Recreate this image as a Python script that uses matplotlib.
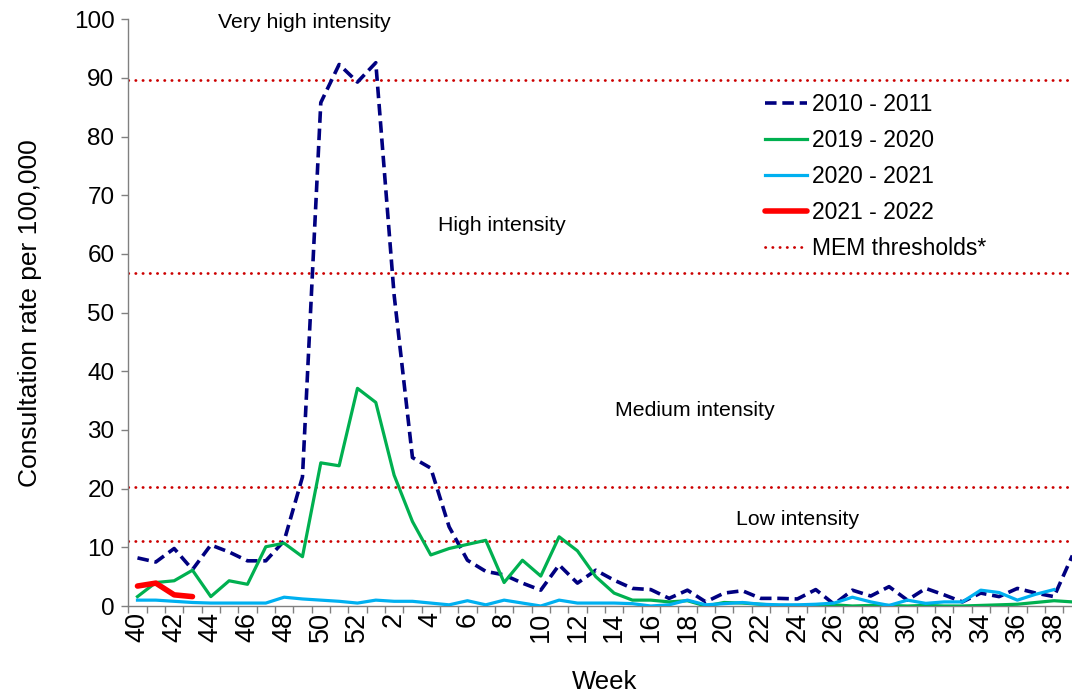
import numpy as np
import matplotlib
matplotlib.use("Agg")
from matplotlib import pyplot as plt

plt.rcParams['font.family'] = ['Liberation Sans', 'DejaVu Sans']

# weeks of the flu season, 40..52 then 1..39
weeks = list(range(40, 53)) + list(range(1, 40))

s2010 = [8.2, 7.5, 9.8, 6.2, 10.4, 9.2, 7.7, 7.7, 11.1, 22.0, 85.8, 92.3, 89.3,
         92.6, 53.0, 25.3, 23.5, 13.5, 7.8, 5.9, 5.3, 3.9, 2.7, 7.0, 3.9, 6.1, 4.4,
         3.0, 2.8, 1.3, 2.7, 0.7, 2.2, 2.6, 1.3, 1.3, 1.2, 2.8, 0.3, 2.7, 1.7, 3.3,
         1.0, 3.0, 1.9, 0.7, 2.2, 1.6, 3.0, 2.2, 1.6, 8.6]
s2019 = [1.6, 4.0, 4.3, 6.1, 1.6, 4.3, 3.7, 10.1, 10.7, 8.4, 24.4, 23.9, 37.1,
         34.7, 22.3, 14.4, 8.7, 9.8, 10.5, 11.2, 4.0, 7.8, 5.1, 11.8, 9.4, 5.0, 2.2,
         1.0, 1.0, 0.7, 0.9, 0.0, 0.6, 0.5, 0.3, 0.1, 0.1, 0.1, 0.2, 0.0, 0.1, 0.1,
         0.0, 0.1, 0.0, 0.0, 0.1, 0.2, 0.3, 0.6, 0.9, 0.7]
s2020 = [1.0, 1.0, 0.8, 0.6, 0.5, 0.5, 0.5, 0.5, 1.5, 1.2, 1.0, 0.8, 0.5,
         1.0, 0.8, 0.8, 0.5, 0.2, 0.9, 0.2, 1.0, 0.5, 0.0, 1.0, 0.5, 0.5, 0.5,
         0.4, 0.0, 0.2, 1.0, 0.2, 0.4, 0.6, 0.3, 0.2, 0.2, 0.3, 0.5, 1.5, 0.7, 0.1,
         1.0, 0.45, 0.7, 0.7, 2.7, 2.3, 1.0, 2.0, 2.8, np.nan]
s2021 = [3.4, 3.9, 1.9, 1.6]

thresholds = [11.0, 20.2, 56.8, 89.7]
zone_labels = ["Low intensity", "Medium intensity", "High intensity", "Very high intensity"]
zone_pos = [(36.0, 14.7), (30.4, 33.4), (19.9, 64.9), (9.1, 99.5)]

fig = plt.figure(figsize=(10.72, 6.94), dpi=100)
ax = fig.add_axes([0.1197, 0.1268, 0.8892, 0.8454])

x = np.arange(len(weeks))
ax.plot(x, s2010, color='#000080', lw=2.6, ls=(0, (3.2, 1.6)), label='2010 - 2011', zorder=3)
ax.plot(x, s2019, color='#00B050', lw=2.3, label='2019 - 2020', zorder=3)
ax.plot(x, s2020, color='#00B0F0', lw=2.3, label='2020 - 2021', zorder=4)
ax.plot(x[:len(s2021)], s2021, color='#FF0000', lw=4, label='2021 - 2022', zorder=5,
        solid_capstyle='round')
for i, t in enumerate(thresholds):
    ax.axhline(t, color='#CC0000', lw=2, ls=(0, (0.1, 2.5)), dash_capstyle='round',
               label='MEM thresholds*' if i == 0 else None, zorder=2)

for lab, (tx, ty) in zip(zone_labels, zone_pos):
    ax.text(tx, ty, lab, ha='center', va='center', fontsize=15.3)

ax.set_xlim(-0.5, len(weeks) - 0.5)
ax.set_ylim(0, 100)
ax.set_yticks(range(0, 101, 10))
ax.set_xticks(x[::2])
ax.set_xticklabels([str(w) for w in weeks[::2]], rotation=90)
ax.set_xticks(np.arange(len(weeks) + 1) - 0.5, minor=True)
ax.tick_params(axis='x', which='major', length=0, pad=4, labelsize=19.5)
ax.tick_params(axis='x', which='minor', length=5, color='#808080', width=1)
ax.tick_params(axis='y', length=5, color='#808080', width=1, pad=5, labelsize=17.5)

for s in ['top', 'right']:
    ax.spines[s].set_visible(False)
for s in ['left', 'bottom']:
    ax.spines[s].set_color('#808080')
    ax.spines[s].set_linewidth(1)

ax.set_ylabel('Consultation rate per 100,000', fontsize=19, labelpad=23)
ax.set_xlabel('Week', fontsize=18.5, labelpad=20)

ax.legend(loc='upper left', bbox_to_anchor=(765 / 1072, 1 - 93 / 694),
          bbox_transform=fig.transFigure, frameon=False, fontsize=16.5,
          handlelength=1.85, handletextpad=0.2, labelspacing=0.57, borderpad=0,
          borderaxespad=0)

fig.savefig('out.png', dpi=100)
